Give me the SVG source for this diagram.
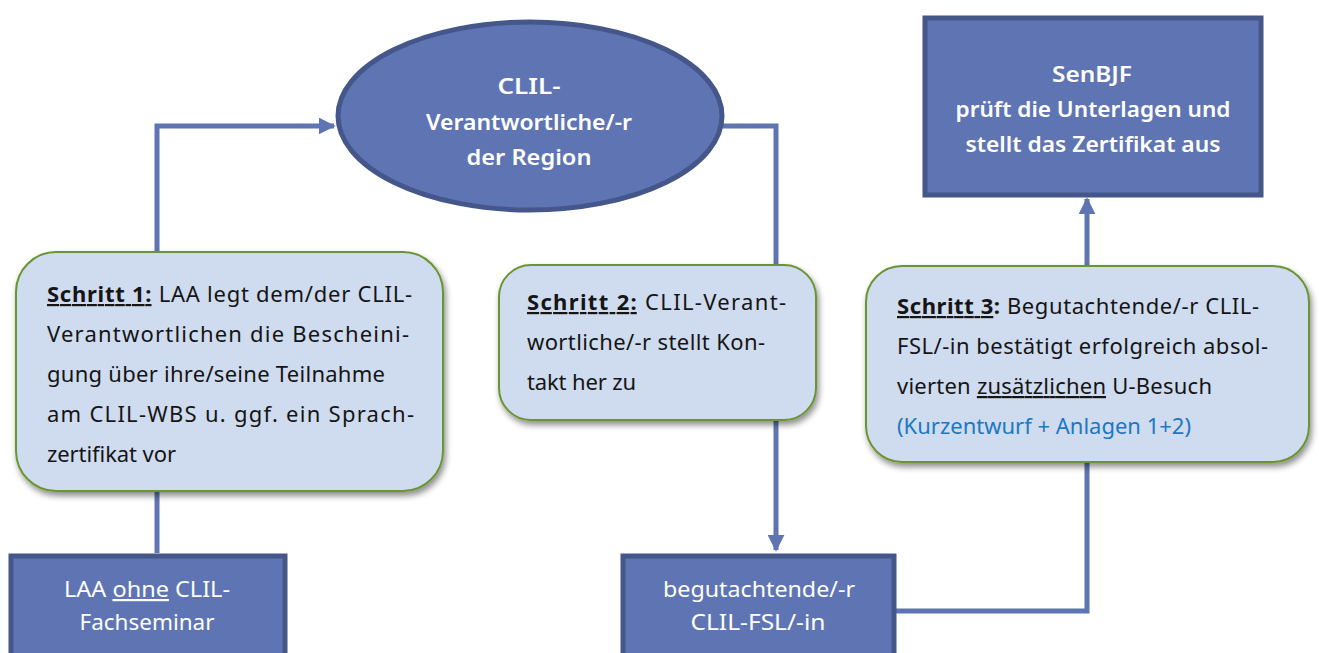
<svg xmlns="http://www.w3.org/2000/svg" width="1319" height="653" viewBox="0 0 1319 653">
<style>
text{font-variant-ligatures:none;font-family:"Noto Sans",Lato,sans-serif}
.dark{fill:#5f75b3;stroke:#44568a;stroke-width:5}
.step{fill:#cfdbee;stroke:#6a9530;stroke-width:2}
.wt{fill:#ffffff;font-size:22px;text-anchor:middle}
.wb{font-weight:600}
.bt{fill:#151515;font-size:22px}
.conn{fill:none;stroke:#5f75b3;stroke-width:5}
</style>
<defs>
<filter id="sh" x="-10%" y="-10%" width="130%" height="130%">
<feGaussianBlur in="SourceAlpha" stdDeviation="3"/>
<feOffset dx="2" dy="4" result="b"/>
<feComponentTransfer><feFuncA type="linear" slope="0.45"/></feComponentTransfer>
<feMerge><feMergeNode/><feMergeNode in="SourceGraphic"/></feMerge>
</filter>
<marker id="ah" viewBox="0 0 10 10" refX="9" refY="5" markerWidth="3.4" markerHeight="3.4" orient="auto" markerUnits="strokeWidth">
<path d="M0,0 L10,5 L0,10 z" fill="#5f75b3"/>
</marker>
</defs>
<g id="connectors">
<path class="conn" d="M157,252 V126 H334" marker-end="url(#ah)"/>
<path class="conn" d="M157,492 V553"/>
<path class="conn" d="M722,126 H776 V550" marker-end="url(#ah)"/>
<path class="conn" d="M896,611 H1087 V462"/>
<path class="conn" d="M1087,266 V199" marker-end="url(#ah)"/>
</g>
<g id="n-region">
<ellipse class="dark" cx="530" cy="116" rx="192" ry="94"/>
<text class="wt wb" x="529" y="94" textLength="63" lengthAdjust="spacingAndGlyphs">CLIL-</text>
<text class="wt wb" x="529" y="130" textLength="206" lengthAdjust="spacingAndGlyphs">Verantwortliche/-r</text>
<text class="wt wb" x="529" y="165" textLength="125" lengthAdjust="spacingAndGlyphs">der Region</text>
</g>
<g id="n-senbjf">
<rect class="dark" x="925" y="18" width="336" height="177"/>
<text class="wt wb" x="1092" y="82" textLength="80" lengthAdjust="spacingAndGlyphs">SenBJF</text>
<text class="wt wb" x="1093" y="117" textLength="275" lengthAdjust="spacingAndGlyphs">prüft die Unterlagen und</text>
<text class="wt wb" x="1093" y="152" textLength="255" lengthAdjust="spacingAndGlyphs">stellt das Zertifikat aus</text>
</g>
<g id="n-step1">
<rect class="step" filter="url(#sh)" x="16" y="252" width="427" height="239" rx="40"/>
<text class="bt" x="47" y="302" textLength="365"><tspan font-weight="bold" text-decoration="underline">Schritt 1:</tspan> LAA legt dem/der CLIL-</text>
<text class="bt" x="47" y="342" textLength="362">Verantwortlichen die Bescheini-</text>
<text class="bt" x="47" y="382" textLength="338">gung über ihre/seine Teilnahme</text>
<text class="bt" x="47" y="422" textLength="367">am CLIL-WBS u. ggf. ein Sprach-</text>
<text class="bt" x="47" y="462" textLength="129">zertifikat vor</text>
</g>
<g id="n-step2">
<rect class="step" filter="url(#sh)" x="499" y="265" width="317" height="155" rx="32"/>
<text class="bt" x="527" y="310" textLength="259"><tspan font-weight="bold" text-decoration="underline">Schritt 2:</tspan> CLIL-Verant-</text>
<text class="bt" x="527" y="350" textLength="238">wortliche/-r stellt Kon-</text>
<text class="bt" x="527" y="390" textLength="109">takt her zu</text>
</g>
<g id="n-step3">
<rect class="step" filter="url(#sh)" x="866" y="266" width="443" height="196" rx="36"/>
<text class="bt" x="897" y="314" textLength="362"><tspan font-weight="bold" text-decoration="underline">Schritt 3</tspan><tspan font-weight="bold">:</tspan> Begutachtende/-r CLIL-</text>
<text class="bt" x="897" y="354" textLength="371">FSL/-in bestätigt erfolgreich absol-</text>
<text class="bt" x="897" y="394" textLength="315">vierten <tspan text-decoration="underline">zusätzlichen</tspan> U-Besuch</text>
<text class="bt" x="897" y="434" textLength="294" style="fill:#1a78c6">(Kurzentwurf + Anlagen 1+2)</text>
</g>
<g id="n-laa">
<rect class="dark" x="11" y="556" width="274" height="110"/>
<text class="wt" x="147" y="597" textLength="166" lengthAdjust="spacingAndGlyphs">LAA <tspan text-decoration="underline">ohne</tspan> CLIL-</text>
<text class="wt" x="147" y="630" textLength="135" lengthAdjust="spacingAndGlyphs">Fachseminar</text>
</g>
<g id="n-fsl">
<rect class="dark" x="623" y="556" width="271" height="110"/>
<text class="wt" x="759" y="597" textLength="192" lengthAdjust="spacingAndGlyphs">begutachtende/-r</text>
<text class="wt" x="758" y="630" textLength="135" lengthAdjust="spacingAndGlyphs">CLIL-FSL/-in</text>
</g>
</svg>
